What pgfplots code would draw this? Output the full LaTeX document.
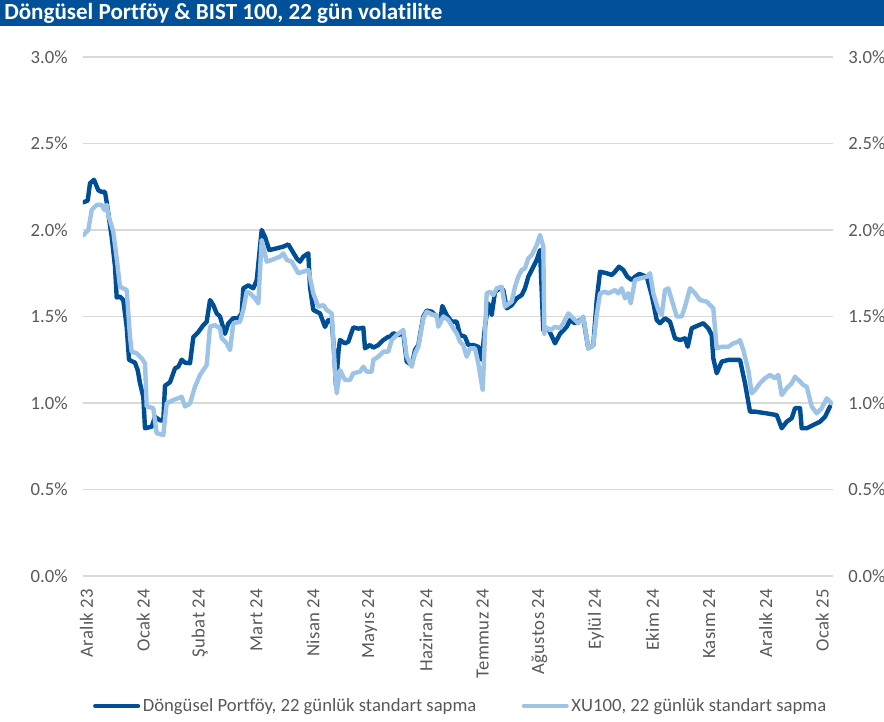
\documentclass[border=0pt]{standalone}
\usepackage{fontspec}
\setmainfont[Ligatures=NoCommon]{Carlito}
\newfontfamily\spacedfont[LetterSpace=2,Ligatures=NoCommon]{Carlito}
\usepackage{pgfplots}
\usepackage{pgfplotstable}
\pgfplotsset{compat=1.18}
\definecolor{titleblue}{RGB}{0,81,154}
\definecolor{darkline}{RGB}{0,78,150}
\definecolor{lightline}{RGB}{157,195,230}
\definecolor{gridgray}{RGB}{217,217,217}
\definecolor{txtgray}{RGB}{89,89,89}

\pgfplotstableread{
px v
83.3 2.16
87.7 2.17
90 2.27
94 2.29
98.3 2.23
101.7 2.22
105 2.22
106.7 2.16
111.7 1.96
115 1.79
116.7 1.61
120 1.615
123.3 1.595
126.7 1.44
129 1.25
135 1.233
137.7 1.19
140 1.114
143.3 1.036
145 0.854
151.7 0.863
155 0.92
160 0.90
163.3 0.90
165 1.10
170 1.12
175 1.20
178.3 1.21
181.7 1.25
185 1.233
190 1.23
193.3 1.38
198.3 1.41
203.3 1.45
206.7 1.47
210 1.595
213.3 1.566
216.7 1.518
220 1.50
225 1.40
228.3 1.46
233.3 1.49
238.3 1.49
241.7 1.52
243.3 1.663
248.3 1.68
253.3 1.663
256.7 1.71
261.7 2.00
265 1.96
269.3 1.884
276.7 1.894
283.3 1.904
288.3 1.917
291.7 1.884
296.7 1.836
300 1.817
303.3 1.846
308.3 1.865
310 1.672
313.3 1.538
320 1.518
325 1.44
328.3 1.48
331.7 1.48
334 1.30
336 1.10
338.5 1.30
340 1.364
345 1.345
348.3 1.354
353.3 1.437
358.3 1.43
363.3 1.435
365 1.316
370 1.335
373.3 1.32
378.3 1.335
383.3 1.364
388.3 1.383
390 1.383
393.3 1.403
398.3 1.393
403.3 1.403
406.7 1.239
411.7 1.22
415 1.306
418.3 1.335
423.3 1.50
426.7 1.534
431.7 1.528
436.7 1.50
440 1.461
442.3 1.561
446.7 1.509
451.7 1.47
456.7 1.47
460 1.393
465 1.383
468.3 1.335
473.3 1.335
478.3 1.325
481.7 1.249
485 1.441
488.3 1.576
491.7 1.509
495 1.643
500 1.663
503.3 1.653
506.7 1.547
511.7 1.566
516.7 1.605
521.7 1.624
525 1.663
528.3 1.73
531.7 1.769
536.7 1.827
540 1.884
543.3 1.42
548.3 1.43
555 1.345
560 1.40
566.7 1.44
570 1.48
575 1.46
580 1.48
583.3 1.49
588.3 1.316
593.3 1.335
596.7 1.595
600 1.759
606.7 1.75
611.7 1.74
615 1.759
619 1.788
623.3 1.769
627.3 1.73
631.7 1.711
635 1.73
639.3 1.746
646.7 1.73
651.7 1.624
656.7 1.48
660 1.461
665 1.49
670 1.47
675 1.374
680 1.364
685 1.374
687.7 1.325
691.7 1.432
696.7 1.445
703.3 1.461
708.3 1.432
711.7 1.393
713.3 1.258
716.7 1.172
721.7 1.239
728.3 1.249
740 1.249
745 1.114
750 0.95
755 0.95
766.7 0.94
776.7 0.93
781.7 0.854
786.7 0.892
791.7 0.912
795 0.97
800 0.97
801.7 0.854
806.7 0.854
813.3 0.873
820 0.892
825 0.92
830 0.98
}\darkdata

\pgfplotstableread{
px v
83.3 1.97
88.3 2.00
91.7 2.116
96.7 2.145
101.7 2.145
104.3 2.116
106.7 2.145
108.3 2.087
113.3 1.99
116.7 1.836
120 1.672
126.7 1.653
130 1.383
131.7 1.297
136.7 1.287
141.7 1.258
145 1.229
146.7 0.98
153.3 0.97
156.7 0.825
163.3 0.815
166.7 0.998
173.3 1.017
181.7 1.036
185 0.98
190 0.998
195 1.094
200 1.162
206.7 1.22
210 1.441
215 1.45
220 1.432
221.7 1.374
226.7 1.345
230 1.306
233.3 1.461
240 1.47
243.3 1.538
246.7 1.643
250 1.634
255 1.605
258.3 1.576
261.7 1.942
266.7 1.817
271.7 1.827
280 1.846
283.3 1.865
286.7 1.827
291.7 1.817
298.3 1.75
303.3 1.759
308.3 1.769
313.3 1.634
318.3 1.557
323.3 1.566
326.7 1.538
331.7 1.518
335 1.19
336.7 1.056
340 1.19
345 1.133
350 1.133
353.3 1.172
360 1.181
363.3 1.21
366.7 1.181
371.7 1.181
373.3 1.249
378.3 1.268
383.3 1.297
388.3 1.297
391.7 1.364
396.7 1.393
403.3 1.422
406.7 1.268
411.7 1.21
415 1.287
418.3 1.325
423.3 1.49
426.7 1.528
433.3 1.509
436.7 1.509
438.3 1.441
443.3 1.50
448.3 1.48
453.3 1.432
456.7 1.403
460 1.354
463.3 1.335
466.7 1.268
470 1.316
475 1.316
478.3 1.229
482.7 1.075
486.7 1.634
490 1.643
493.3 1.624
496.7 1.663
501.7 1.672
505 1.557
511.7 1.586
515 1.672
518.3 1.73
521.7 1.769
525 1.778
528.3 1.836
531.7 1.855
536.7 1.913
540 1.971
543.3 1.904
544.3 1.40
545 1.441
550 1.42
555 1.44
560 1.432
563.3 1.461
568.3 1.518
573.3 1.49
578.3 1.461
583.3 1.50
588.3 1.316
593.3 1.335
596.7 1.509
600 1.634
605 1.643
608.3 1.634
611.7 1.643
615 1.653
618.3 1.634
621.7 1.663
625 1.605
628.3 1.634
630.7 1.576
635 1.711
640 1.72
646.7 1.73
650 1.75
653.3 1.634
658.3 1.538
661.7 1.509
665 1.653
668.3 1.663
673.3 1.566
676.7 1.50
681.7 1.50
685 1.557
690 1.663
695 1.634
700 1.595
706.7 1.586
710 1.566
713.3 1.547
716.7 1.316
721.7 1.325
728.3 1.325
733.3 1.345
738.3 1.354
740 1.364
743.3 1.306
748.3 1.19
751.7 1.056
755 1.075
760 1.114
765 1.143
770 1.162
775 1.143
778.3 1.162
781.7 1.046
786.7 1.085
791.7 1.114
795 1.152
800 1.124
803.3 1.104
806.7 1.094
811.7 0.98
816.7 0.94
821.7 0.97
826.7 1.027
831.7 0.998
}\lightdata

\begin{document}
\begin{tikzpicture}
\path[use as bounding box] (0pt,0pt) rectangle (663pt,540.75pt);
\fill[titleblue] (0pt,521.25pt) rectangle (663pt,540.75pt);
\node[anchor=west,text=white,font=\fontsize{17.3}{19}\selectfont\bfseries,inner sep=0pt] at (3pt,530.8pt) {Döngüsel Portföy \& BIST 100, 22 gün volatilite};

\begin{axis}[
  at={(62.25pt,108.75pt)}, anchor=south west,
  scale only axis, width=562.5pt, height=389.25pt,
  xmin=-0.0618, xmax=13.189, ymin=0, ymax=3,
  axis line style={draw=none},
  major tick length=0pt,
  ymajorgrids, major grid style={gridgray, line width=1pt},
  ytick={0,0.5,1,1.5,2,2.5,3},
  yticklabels={0.0\%,0.5\%,1.0\%,1.5\%,2.0\%,2.5\%,3.0\%},
  yticklabel style={font=\fontsize{14}{16}\selectfont, text=txtgray, xshift=-8pt},
  xtick={0,1,2,3,4,5,6,7,8,9,10,11,12,13},
  xticklabels={Aralık 23,Ocak 24,Şubat 24,Mart 24,Nisan 24,Mayıs 24,Haziran 24,Temmuz 24,Ağustos 24,Eylül 24,Ekim 24,Kasım 24,Aralık 24,Ocak 25},
  xticklabel style={font=\spacedfont\fontsize{14}{16}\selectfont, text=txtgray, yshift=-6pt, rotate=90, anchor=east},
  legend columns=2,
  legend style={at={(0.504,-0.2505)}, anchor=center, draw=none, fill=none,
    font=\fontsize{14}{16}\selectfont, text=txtgray,
    /tikz/every even column/.append style={column sep=32pt},
    inner sep=0pt, row sep=0pt},
  legend image code/.code={\draw[#1, line width=3.3pt] (0pt,0pt) -- (32pt,0pt);},
  legend cell align=left,
]
\addplot[darkline, line width=3.3pt, line join=round, line cap=round] table[x expr={(\thisrow{px}-86.5)/56.6}, y=v] {\darkdata};
\addlegendentry{Döngüsel Portföy, 22 günlük standart sapma}
\addplot[lightline, line width=3.3pt, line join=round, line cap=round] table[x expr={(\thisrow{px}-86.5)/56.6}, y=v] {\lightdata};
\addlegendentry{XU100, 22 günlük standart sapma}
\end{axis}

\begin{axis}[
  at={(62.25pt,108.75pt)}, anchor=south west,
  scale only axis, width=562.5pt, height=389.25pt,
  xmin=-0.0618, xmax=13.189, ymin=0, ymax=3,
  axis line style={draw=none},
  major tick length=0pt,
  xtick=\empty,
  yticklabel pos=right,
  ytick={0,0.5,1,1.5,2,2.5,3},
  yticklabels={0.0\%,0.5\%,1.0\%,1.5\%,2.0\%,2.5\%,3.0\%},
  yticklabel style={font=\fontsize{14}{16}\selectfont, text=txtgray, xshift=8pt},
]
\end{axis}
\end{tikzpicture}
\end{document}
